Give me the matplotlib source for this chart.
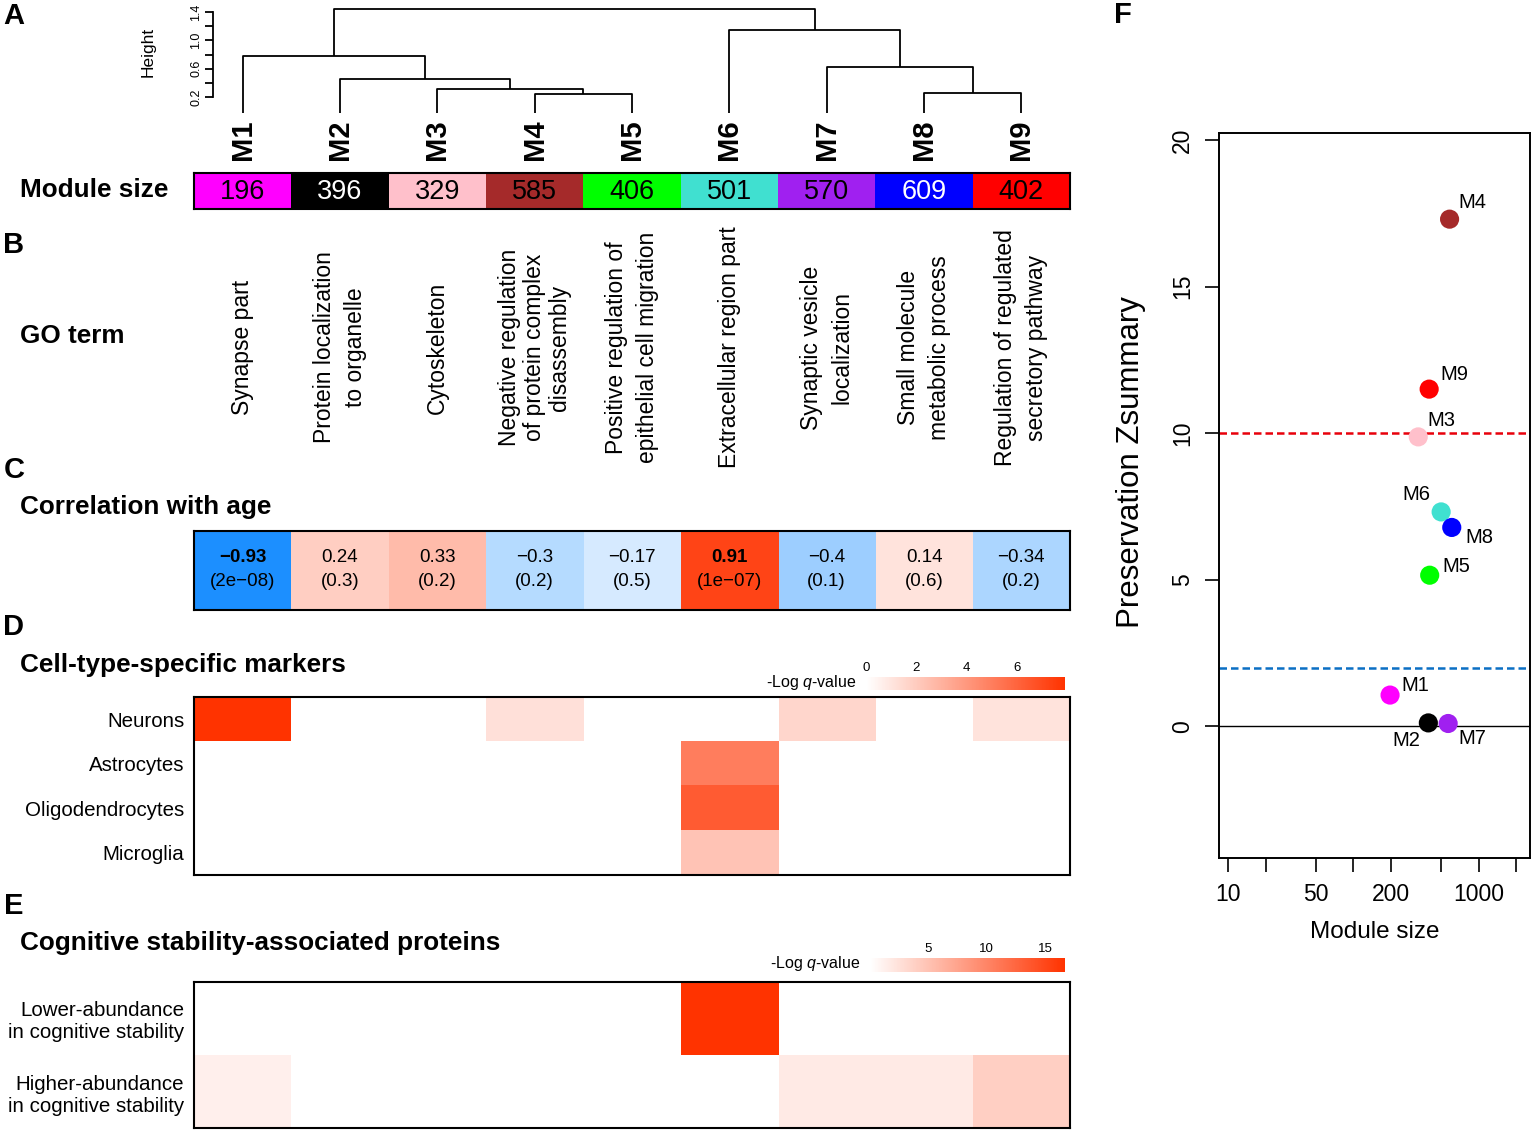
import numpy as np
import matplotlib
matplotlib.use('Agg')
import matplotlib.pyplot as plt
from matplotlib.colors import LinearSegmentedColormap, Normalize
from matplotlib.cm import ScalarMappable
from matplotlib.ticker import NullLocator

plt.rcParams['font.family'] = ['Liberation Sans', 'DejaVu Sans']
plt.rcParams['mathtext.fontset'] = 'custom'
plt.rcParams['mathtext.rm'] = 'Liberation Sans'
plt.rcParams['mathtext.it'] = 'Liberation Sans:italic'

# ---- data ----
modules = ['M1', 'M2', 'M3', 'M4', 'M5', 'M6', 'M7', 'M8', 'M9']
module_sizes = [196, 396, 329, 585, 406, 501, 570, 609, 402]
module_colors = ['#FF00FF', '#000000', '#FFC0CB', '#A52A2A', '#00FF00',
                 '#40E0D0', '#A020F0', '#0000FF', '#FF0000']

# dendrogram merges (left node, right node, height); leaves are 0..8
merges = [(3, 4, 0.24), (7, 8, 0.26), (2, 9, 0.31), (1, 11, 0.45),
          (6, 10, 0.63), (0, 12, 0.78), (5, 13, 1.14), (14, 15, 1.44)]

go_terms = ['Synapse part',
            'Protein localization\nto organelle',
            'Cytoskeleton',
            'Negative regulation\nof protein complex\ndisassembly',
            'Positive regulation of\nepithelial cell migration',
            'Extracellular region part',
            'Synaptic vesicle\nlocalization',
            'Small molecule\nmetabolic process',
            'Regulation of regulated\nsecretory pathway']

age_r = [-0.93, 0.24, 0.33, -0.3, -0.17, 0.91, -0.4, 0.14, -0.34]
age_p = ['2e−08', '0.3', '0.2', '0.2', '0.5', '1e−07', '0.1', '0.6', '0.2']

cell_types = ['Neurons', 'Astrocytes', 'Oligodendrocytes', 'Microglia']
cell_q = [[7.9, 0, 0, 1.2, 0, 0, 1.6, 0, 1.1],
          [0, 0, 0, 0, 0, 5.0, 0, 0, 0],
          [0, 0, 0, 0, 0, 6.3, 0, 0, 0],
          [0, 0, 0, 0, 0, 2.3, 0, 0, 0]]
cell_qmax = 7.9

cog_rows = ['Lower-abundance\nin cognitive stability',
            'Higher-abundance\nin cognitive stability']
cog_q = [[0, 0, 0, 0, 0, 16.7, 0, 0, 0],
         [1.25, 0, 0, 0, 0, 0, 1.7, 1.7, 3.9]]
cog_qmax = 16.7

zsummary = [1.06, 0.11, 9.87, 17.3, 5.15, 7.31, 0.09, 6.78, 11.5]

# ---- layout helpers ----
W, H = 1534, 1133
fig = plt.figure(figsize=(W / 100, H / 100), dpi=100)


def rect(x0, y0, x1, y1):
    return [x0 / W, 1 - y1 / H, (x1 - x0) / W, (y1 - y0) / H]


n = len(modules)
red_cmap = LinearSegmentedColormap.from_list('wr', ['white', '#FF3300'])
corr_cmap = LinearSegmentedColormap.from_list('corr', ['#0D88FF', 'white', '#FF3300'])
head_fs = 18.8

# panel letters and headings
for letter, (x, y) in zip('ABCDEF', [(14, 16), (14, 245), (14, 470), (14, 627), (14, 906), (1123, 15)]):
    fig.text(x / W, 1 - y / H, letter, fontsize=21, fontweight='bold', ha='center', va='center')
for txt, y in [('Module size', 190), ('GO term', 336), ('Correlation with age', 507),
               ('Cell-type-specific markers', 665), ('Cognitive stability-associated proteins', 943)]:
    fig.text(20 / W, 1 - y / H, txt, fontsize=head_fs, fontweight='bold', ha='left', va='center')

# ---- A: dendrogram ----
axd = fig.add_axes(rect(194, 0, 1070, 115))
leaf_bottom = -0.03
node_x = {i: i + 0.5 for i in range(n)}
node_h = {i: leaf_bottom for i in range(n)}
for k, (a, b, h) in enumerate(merges):
    xa, xb = node_x[a], node_x[b]
    axd.plot([xa, xa, xb, xb], [node_h[a], h, h, node_h[b]], color='black', lw=1.3,
             solid_capstyle='butt')
    node_x[n + k] = (xa + xb) / 2
    node_h[n + k] = h
axd.set_xlim(0, n)
axd.set_ylim(-0.054, 1.57)
for s in ['top', 'right', 'bottom']:
    axd.spines[s].set_visible(False)
axd.spines['left'].set_position(('data', 0.2))
axd.spines['left'].set_bounds(0.2, 1.4)
axd.spines['left'].set_linewidth(1.3)
yt = [0.2, 0.4, 0.6, 0.8, 1.0, 1.2, 1.4]
axd.set_yticks(yt)
axd.set_yticklabels(['0.2', '', '0.6', '', '1.0', '', '1.4'], rotation=90, va='center', fontsize=9)
axd.tick_params(axis='y', length=6, width=1.3, pad=2)
axd.set_xticks([])
axd.text(-0.0525, 0.548, 'Height', transform=axd.transAxes, rotation=90,
         ha='center', va='center', fontsize=12.5)

# ---- module size strip ----
axs = fig.add_axes(rect(194, 173, 1070, 209))
axs.bar(np.arange(n), 1, width=1, align='edge', color=module_colors)
for i, (sz, c) in enumerate(zip(module_sizes, module_colors)):
    rgb = matplotlib.colors.to_rgb(c)
    lum = 0.3 * rgb[0] + 0.59 * rgb[1] + 0.11 * rgb[2]
    axs.text(i + 0.5, 0.48, str(sz), ha='center', va='center', fontsize=19.5,
             color='white' if lum < 0.2 else 'black')
    axs.annotate(modules[i], (i + 0.5, 1), xycoords=('data', 'axes fraction'),
                 xytext=(0, 9.4), textcoords='offset points', rotation=90,
                 ha='center', va='bottom', fontsize=21, fontweight='bold')
axs.set_xlim(0, n)
axs.set_ylim(0, 1)
axs.set_xticks([])
axs.set_yticks([])
for s in axs.spines.values():
    s.set_linewidth(1.5)

# ---- B: GO terms ----
axg = fig.add_axes(rect(194, 215, 1070, 480))
axg.set_xlim(0, n)
axg.set_ylim(0, 1)
axg.axis('off')
for i, t in enumerate(go_terms):
    nl = t.count('\n') + 1
    axg.text(i + 0.5, 0.5, t, rotation=90, ha='center', va='center', fontsize=16.5,
             multialignment='center', linespacing=1.45 if nl == 2 else 1.1)

# ---- C: correlation with age ----
axc = fig.add_axes(rect(194, 531, 1070, 610))
axc.imshow(np.array([age_r]), cmap=corr_cmap, vmin=-1, vmax=1, aspect='auto',
           extent=(0, n, 0, 1))
for i, (r, p) in enumerate(zip(age_r, age_p)):
    sig = float(p.replace('−', '-')) < 0.05
    rs = ('%g' % r).replace('-', '−')
    axc.text(i + 0.5, 0.67, rs, ha='center', va='center', fontsize=13.5,
             fontweight='bold' if sig else 'normal')
    axc.text(i + 0.5, 0.36, '(%s)' % p, ha='center', va='center', fontsize=13.5)
axc.set_xticks([])
axc.set_yticks([])
for s in axc.spines.values():
    s.set_linewidth(1.5)


# ---- heatmaps D and E ----
def q_heatmap(r, vals, rows, vmax, cb_rect, cb_ticks):
    ax = fig.add_axes(rect(*r))
    ax.imshow(np.array(vals), cmap=red_cmap, vmin=0, vmax=vmax, aspect='auto',
              extent=(0, n, len(rows), 0), interpolation='nearest')
    ax.set_xticks([])
    ax.set_yticks(np.arange(len(rows)) + 0.5)
    ax.set_yticklabels(rows, fontsize=14.8)
    ax.tick_params(axis='y', length=0, pad=7)
    for s in ax.spines.values():
        s.set_linewidth(1.5)
    cax = fig.add_axes(rect(*cb_rect))
    cb = fig.colorbar(ScalarMappable(Normalize(0, vmax), red_cmap), cax=cax,
                      orientation='horizontal', ticks=cb_ticks)
    cb.outline.set_visible(False)
    cax.xaxis.set_ticks_position('top')
    cax.tick_params(length=0, labelsize=9.5, pad=2)
    cax.text(-0.05, 0.6, '-Log $\\mathit{q}$-value', transform=cax.transAxes,
             ha='right', va='center', fontsize=11.5)
    return ax


q_heatmap((194, 697, 1070, 875), cell_q, cell_types, cell_qmax,
          (866, 677, 1065, 690), [0, 2, 4, 6])
q_heatmap((194, 982, 1070, 1128), cog_q, cog_rows, cog_qmax,
          (870, 958, 1065, 972), [5, 10, 15])

# ---- F: preservation ----
axf = fig.add_axes(rect(1219, 133, 1530, 858))
axf.axhline(0, color='black', lw=1)
axf.axhline(10, color='#E8000B', lw=1.8, ls=(0, (3, 1.6)))
axf.axhline(2, color='#0B6FC4', lw=1.8, ls=(0, (3, 1.6)))
axf.scatter(module_sizes, zsummary, s=190, c=module_colors, edgecolors='none', zorder=3)
label_offsets = [(18.5, 7.2), (-15.6, -12.5), (16.6, 12), (16.6, 12.2), (19.2, 6.5),
                 (-18, 12.7), (17.5, -10.6), (20, -7), (17.8, 10.8)]
for m, x, y, off in zip(modules, module_sizes, zsummary, label_offsets):
    axf.annotate(m, (x, y), xytext=off, textcoords='offset points',
                 ha='center', va='center', fontsize=14.5)
axf.set_xscale('log')
axf.set_xlim(10 ** 0.927, 10 ** 3.409)
axf.set_ylim(-4.5, 20.24)
axf.set_xticks([10, 20, 50, 100, 200, 500, 1000, 2000])
axf.set_xticklabels(['10', '', '50', '', '200', '', '1000', ''])
axf.xaxis.set_minor_locator(NullLocator())
axf.set_yticks([0, 5, 10, 15, 20])
axf.set_yticklabels(['0', '5', '10', '15', '20'], rotation=90, va='center')
axf.tick_params(direction='out', length=10, width=1.2, labelsize=16.5, pad=8)
for s in axf.spines.values():
    s.set_linewidth(1.4)
axf.text(-0.283, 0.546, 'Preservation Zsummary', transform=axf.transAxes, rotation=90,
         ha='center', va='center', fontsize=22.5)
axf.text(0.5, -0.102, 'Module size', transform=axf.transAxes,
         ha='center', va='center', fontsize=17.5)

fig.savefig('out.png', dpi=100)
